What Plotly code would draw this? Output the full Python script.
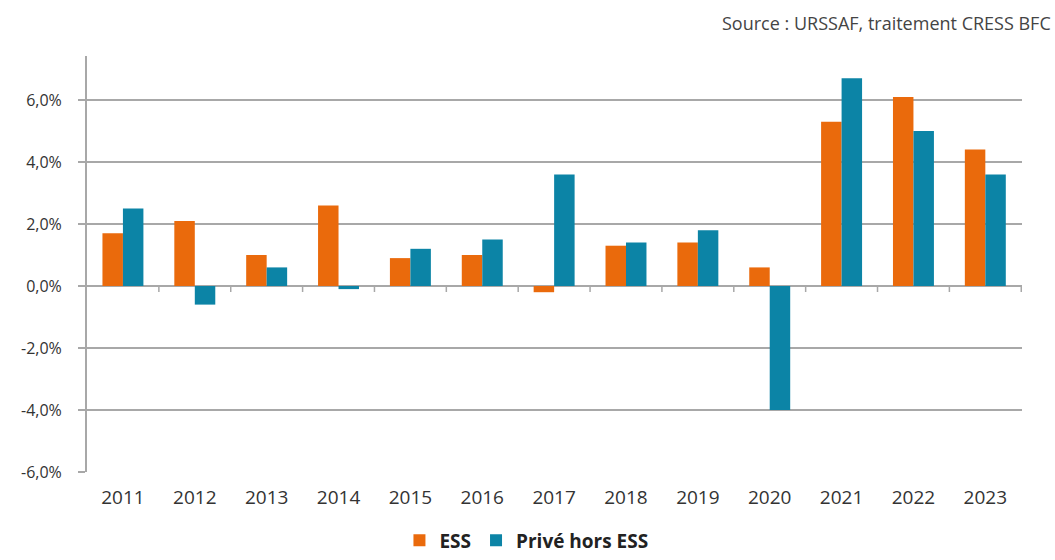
import plotly.graph_objects as go

# Annual change in employment, 2011-2023 (%)
years = ["2011", "2012", "2013", "2014", "2015", "2016", "2017",
         "2018", "2019", "2020", "2021", "2022", "2023"]
ess = [1.7, 2.1, 1.0, 2.6, 0.9, 1.0, -0.2, 1.3, 1.4, 0.6, 5.3, 6.1, 4.4]
prive_hors_ess = [2.5, -0.6, 0.6, -0.1, 1.2, 1.5, 3.6, 1.4, 1.8, -4.0, 6.7, 5.0, 3.6]
y_ticks = [-6, -4, -2, 0, 2, 4, 6]
y_tick_text = [f"{v:.1f}".replace(".", ",") + "%" for v in y_ticks]

ORANGE = "#EA6A0C"
TEAL = "#0C84A6"
GRID = "#a8a8a8"
FONT = "Open Sans, DejaVu Sans, sans-serif"

fig = go.Figure()
fig.add_trace(go.Bar(x=years, y=ess, name="ESS", marker_color=ORANGE,
                     marker_line_width=0))
fig.add_trace(go.Bar(x=years, y=prive_hors_ess, name="Privé hors ESS",
                     marker_color=TEAL, marker_line_width=0))

# small tick marks on the zero line between categories
for i in range(1, len(years) + 1):
    fig.add_shape(type="line", xref="x", yref="y", x0=i - 0.5, x1=i - 0.5,
                  ysizemode="pixel", yanchor=0, y0=0, y1=-6,
                  line=dict(color=GRID, width=1.5))

fig.add_annotation(text="Source : URSSAF, traitement CRESS BFC",
                   xref="paper", yref="paper", x=1.033, y=1.079,
                   xanchor="right", yanchor="middle",
                   showarrow=False,
                   font=dict(family=FONT, size=18, color="#444444"))

fig.update_layout(
    width=1055, height=560,
    margin=dict(l=87, r=33, t=56, b=88, autoexpand=False),
    paper_bgcolor="white", plot_bgcolor="white",
    barmode="group", bargap=0.43, bargroupgap=0,
    font=dict(family=FONT, size=13, color="#333333"),
    legend=dict(orientation="h", x=0.47, xanchor="center",
                yref="container", y=0.035, yanchor="middle",
                font=dict(size=19, color="#222222",
                          family=FONT, weight="bold"),
                itemwidth=30, traceorder="normal"),
    xaxis=dict(type="category", showgrid=False, showline=False,
               ticks="", tickfont=dict(size=19, color="#333333"),
               ticklabelstandoff=12, automargin=False),
    yaxis=dict(range=[-6, 7.42], tickvals=y_ticks, ticktext=y_tick_text,
               showgrid=True, gridcolor=GRID, gridwidth=2,
               zeroline=True, zerolinecolor=GRID, zerolinewidth=2,
               showline=True, linecolor=GRID, linewidth=2,
               ticks="outside", ticklen=7, tickcolor=GRID, tickwidth=2,
               ticklabelstandoff=13, automargin=False,
               tickfont=dict(size=16, color="#333333")),
)

fig.write_html("out.html")
